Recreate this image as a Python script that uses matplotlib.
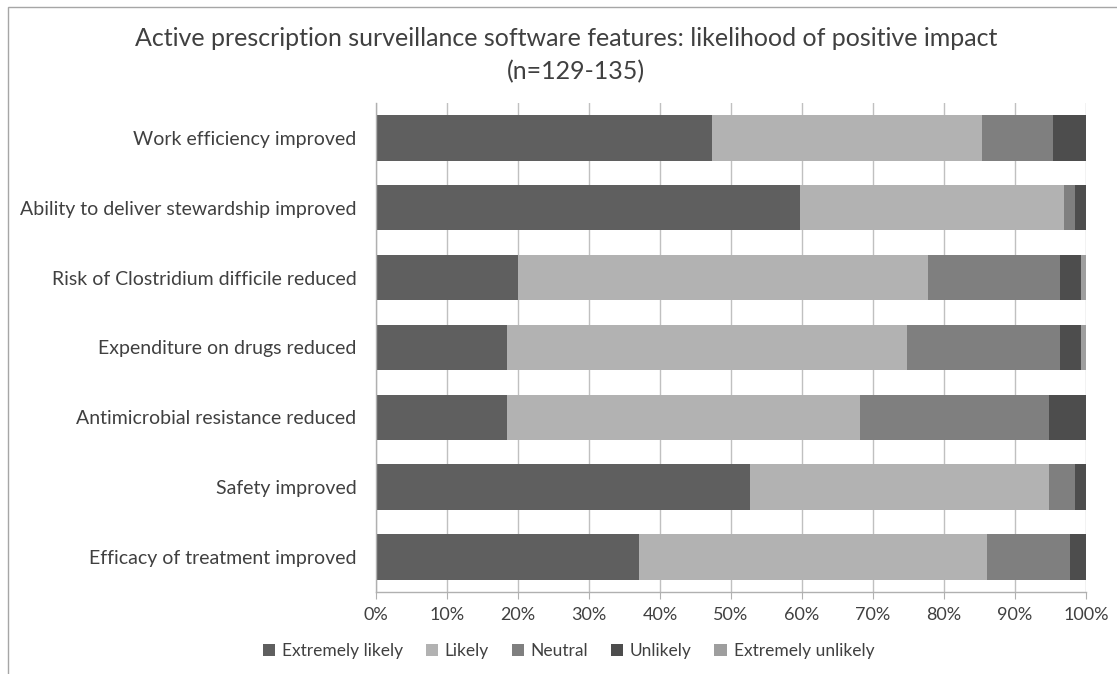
import matplotlib.pyplot as plt
from matplotlib.patches import Rectangle
import numpy as np

plt.rcParams['font.family'] = ['Lato', 'DejaVu Sans']
plt.rcParams['text.color'] = '#404040'

# data, percent of respondents (top row first)
features = ['Work efficiency improved',
            'Ability to deliver stewardship improved',
            'Risk of Clostridium difficile reduced',
            'Expenditure on drugs reduced',
            'Antimicrobial resistance reduced',
            'Safety improved',
            'Efficacy of treatment improved']
extremely_likely = [47.3, 59.7, 20.0, 18.5, 18.5, 52.7, 37.0]
likely = [38.0, 37.2, 57.8, 56.3, 49.7, 42.1, 49.0]
neutral = [10.0, 1.6, 18.5, 21.5, 26.6, 3.7, 11.7]
unlikely = [4.7, 1.5, 3.0, 3.0, 5.2, 1.5, 2.3]
extremely_unlikely = [0.0, 0.0, 0.7, 0.7, 0.0, 0.0, 0.0]

series = [('Extremely likely', extremely_likely, '#5f5f5f'),
          ('Likely', likely, '#b2b2b2'),
          ('Neutral', neutral, '#7f7f7f'),
          ('Unlikely', unlikely, '#4d4d4d'),
          ('Extremely unlikely', extremely_unlikely, '#9e9e9e')]
xticks = [0, 10, 20, 30, 40, 50, 60, 70, 80, 90, 100]

fig = plt.figure(figsize=(11.17, 6.74), dpi=100)
ax = fig.add_axes([0.3366, 0.1217, 0.6357, 0.7255])

# outer chart frame
fig.patches.append(Rectangle((8/1117, -0.01), 1.1, 1 - 7/674 + 0.01, transform=fig.transFigure,
                             fill=False, edgecolor='#a6a6a6', linewidth=1.0))

y = np.arange(len(features))
left = np.zeros(len(features))
for name, vals, clr in series:
    vals = np.array(vals)
    ax.barh(y, vals, left=left, height=0.65, color=clr, label=name, zorder=2)
    left = left + vals

ax.set_ylim(len(features) - 0.5, -0.5)
ax.set_xlim(0, 100)
ax.set_yticks(y)
ax.set_yticklabels(features, fontsize=14, color='#404040')
ax.set_xticks(xticks)
ax.set_xticklabels([f'{t}%' for t in xticks], fontsize=13, color='#404040')
ax.tick_params(axis='y', length=0, pad=14)
ax.tick_params(axis='x', length=5, color='#b0b0b0', pad=6, direction='out')
ax.grid(axis='x', color='#c0c0c0', linewidth=1.0, zorder=0)
ax.set_axisbelow(True)
for s in ['top', 'right']:
    ax.spines[s].set_visible(False)
for s in ['left', 'bottom']:
    ax.spines[s].set_color('#b0b0b0')
    ax.spines[s].set_linewidth(1.0)

fig.text(0.507, 0.943, 'Active prescription surveillance software features: likelihood of positive impact',
         ha='center', va='center', fontsize=18)
fig.text(0.516, 0.893, '(n=129-135)', ha='center', va='center', fontsize=18)

fig.legend(loc='center', bbox_to_anchor=(0.509, 0.034), ncol=5, frameon=False, fontsize=12.5,
           handlelength=0.7, handleheight=0.7, handletextpad=0.4, columnspacing=1.3)

fig.savefig('out.png', dpi=100)
